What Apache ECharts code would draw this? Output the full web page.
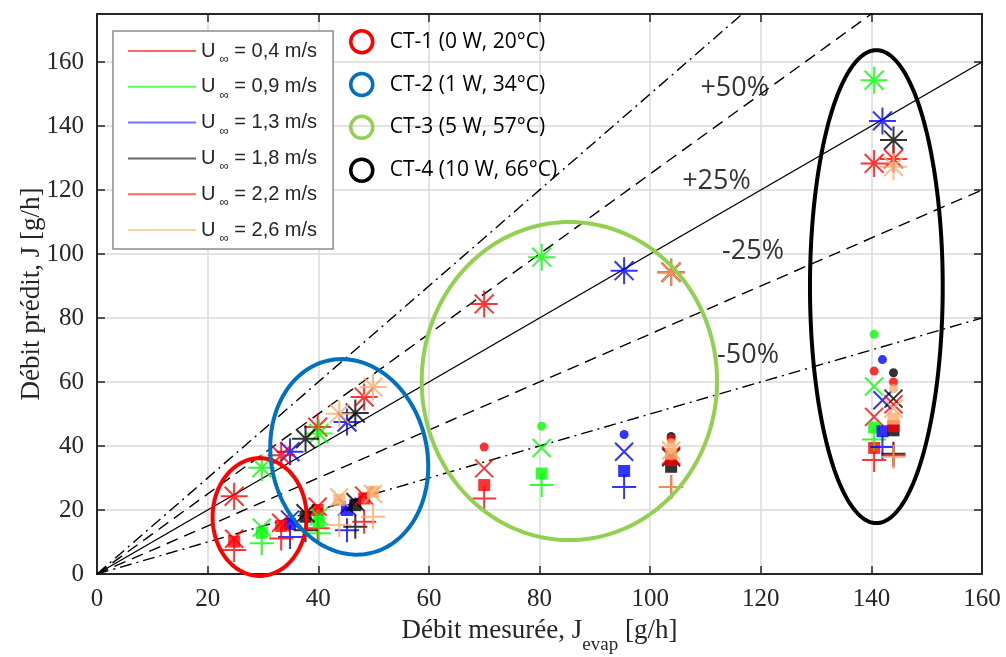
<!DOCTYPE html>
<html><head><meta charset="utf-8">
<script src="https://cdn.jsdelivr.net/npm/echarts@6/dist/echarts.min.js"></script>
<style>html,body{margin:0;padding:0;background:#fff}#c{width:1006px;height:657px}</style>
</head><body><div id="c"></div>
<script>
// ---------------- data ----------------
const uLabels = ['0,4', '0,9', '1,3', '1,8', '2,2', '2,6'];
const ctNames = ['CT-1 (0 W, 20°C)', 'CT-2 (1 W, 34°C)', 'CT-3 (5 W, 57°C)', 'CT-4 (10 W, 66°C)'];

// measured flow J_evap for each U (rows) and each CT group (columns)
const jEvap = [
  [24.8, 39.9, 70.0, 140.5],
  [29.8, 40.1, 80.4, 140.5],
  [34.9, 45.2, 95.3, 142.0],
  [37.7, 46.7, 103.8, 144.0],
  [33.3, 48.3, 103.8, 144.0],
  [43.8, 49.9, 103.8, 144.0]
];
// predicted flows (one array per model / marker)
const predStar = [
  [24.3, 45.9, 84.4, 128.3],
  [33.2, 43.9, 99.0, 154.3],
  [38.2, 47.5, 94.8, 141.6],
  [42.3, 50.3, 94.3, 135.6],
  [37.1, 55.3, 94.3, 129.7],
  [50.1, 58.4, 94.3, 127.3]
];
const predDot = [
  [null, null, 39.7, 63.4],
  [null, null, 46.2, 74.9],
  [null, null, 43.6, 67.0],
  [null, null, 43.0, 62.9],
  [null, null, 42.2, 60.0],
  [null, null, 41.0, 57.9]
];
const predCross = [
  [11.0, 21.0, 33.0, 49.1],
  [14.5, 18.0, 39.4, 58.6],
  [17.0, 21.0, 38.2, 54.3],
  [19.0, 22.5, 36.5, 54.8],
  [16.0, 24.5, 37.0, 53.0],
  [24.0, 25.0, 38.6, 51.7]
];
const predSquare = [
  [10.1, 20.0, 27.8, 39.4],
  [12.9, 16.3, 31.4, 45.8],
  [15.6, 20.0, 32.2, 44.6],
  [17.9, 21.5, 33.5, 44.9],
  [15.0, 23.6, 35.6, 46.2],
  [23.1, 25.7, 37.6, 48.6]
];
const predPlus = [
  [7.5, 14.3, 23.6, 35.6],
  [9.6, 12.7, 27.8, 42.0],
  [11.6, 13.7, 27.2, 39.7],
  [13.7, 14.8, 27.2, 37.6],
  [11.1, 16.3, 27.2, 37.0],
  [15.3, 17.9, 27.2, 36.6]
];
// error bands (slope of y = k x)
const bandSlopes = [1.5, 1.25, 1, 0.75, 0.5];
const bandLabels = ['+50%', '+25%', '-25%', '-50%'];
const bandLabelAt = [[115.3, 151.9], [112.0, 122.6], [118.6, 100.7], [117.7, 68.4]];
// CT group ellipses: [cx, cy, rx, ry, rotationDeg] in data units
const ctEllipses = [
  [29.4, 17.8, 8.5, 18.4, 0],
  [45.6, 36.6, 14.1, 30.8, -12],
  [85.4, 60.3, 26.7, 49.7, 0],
  [140.9, 89.8, 12.0, 73.9, 0]
];

// ---------------- styles ----------------
const markerColors = ['#ff0000', '#00ff00', '#0000ff', '#000000', '#ff0000', '#f9ad6a'];
const legendColors = ['#ff4040', '#30ff30', '#5050ff', '#404040', '#ff4040', '#ffc590'];
const ctColors = ['#ff0000', '#0070c0', '#92d050', '#000000'];
const bandTypes = [[12, 5, 2, 5], [12, 7], 'solid', [12, 7], [12, 5, 2, 5]];
const models = [
  { data: predSquare, symbol: 'rect', size: 12, filled: true },
  { data: predCross, symbol: 'path://M0,0L100,100M100,0L0,100', size: 18 },
  { data: predPlus, symbol: 'path://M50,0L50,100M0,50L100,50', size: 24 },
  { data: predDot, symbol: 'circle', size: 9, filled: true },
  { data: predStar, symbol: 'path://M50,0L50,100M0,50L100,50M15,15L85,85M85,15L15,85', size: 27 }
];
const axisColor = '#262626';
const serif = "'Liberation Serif', 'DejaVu Serif', serif";

const series = [];
bandSlopes.forEach((k, i) => {
  series.push({
    type: 'line', data: [[0, 0], [160, 160 * k]], symbol: 'none', silent: true, z: 2, clip: true,
    lineStyle: { color: '#000', width: 1.4, type: bandTypes[i] }, animation: false
  });
});
uLabels.forEach((u, i) => {
  models.forEach(m => {
    const pts = [];
    jEvap[i].forEach((x, j) => { if (m.data[i][j] != null) pts.push([x, m.data[i][j]]); });
    series.push({
      type: 'scatter', name: 'U_' + u, data: pts, symbol: m.symbol, symbolSize: m.size,
      silent: true, z: 3, animation: false, emphasis: { disabled: true },
      itemStyle: m.filled ? { color: markerColors[i] }
        : { color: 'rgba(0,0,0,0)', borderColor: markerColors[i], borderWidth: 2 }
    });
  });
});
ctNames.forEach((n, i) => {
  series.push({
    type: 'custom', name: n, coordinateSystem: 'cartesian2d', data: [ctEllipses[i]],
    z: 5, silent: true, animation: false, itemStyle: { color: ctColors[i] },
    renderItem: (params, api) => {
      const c = api.coord([api.value(0), api.value(1)]);
      const s = api.size([api.value(2), api.value(3)]);
      const r = api.value(4) * Math.PI / 180;
      const pts = [];
      for (let t = 0; t < 180; t++) {
        const a = t / 180 * Math.PI * 2;
        const lx = s[0] * Math.cos(a), ly = s[1] * Math.sin(a);
        pts.push([c[0] + lx * Math.cos(r) - ly * Math.sin(r), c[1] + lx * Math.sin(r) + ly * Math.cos(r)]);
      }
      return { type: 'polygon', shape: { points: pts }, style: { fill: 'none', stroke: ctColors[i], lineWidth: 4 } };
    }
  });
});
series.push({
  type: 'scatter', data: bandLabels.map((t, i) => ({ name: t, value: bandLabelAt[i] })),
  symbolSize: 1, silent: true, z: 4, animation: false, itemStyle: { color: 'rgba(0,0,0,0)' },
  label: { show: true, position: 'inside', formatter: p => p.name, fontFamily: 'Open Sans', fontSize: 27, color: '#000' }
});

const baseX = {
  type: 'value', min: 0, max: 160, interval: 20,
  axisLine: { show: true, onZero: false, lineStyle: { color: axisColor, width: 2 } },
  axisTick: { show: true, inside: true, length: 8, lineStyle: { color: axisColor, width: 1.5 } }
};
const baseY = {
  type: 'value', min: 0, max: 175, interval: 20,
  axisLine: { show: true, onZero: false, lineStyle: { color: axisColor, width: 2 } },
  axisTick: { show: true, inside: true, length: 8, lineStyle: { color: axisColor, width: 1.5 } }
};

const option = {
  animation: false,
  backgroundColor: '#fff',
  grid: { left: 97, right: 24, top: 14, bottom: 83, containLabel: false, outerBoundsMode: 'none' },
  xAxis: [
    Object.assign({}, baseX, {
      position: 'bottom',
      axisLabel: { fontFamily: serif, fontSize: 25, color: axisColor, margin: 13 },
      splitLine: { show: true, lineStyle: { color: '#dadada', width: 1.5 } },
      name: '{a|Débit mesurée, J}{b|evap}{a| [g/h]}', nameLocation: 'middle', nameGap: 43,
      nameTextStyle: {
        color: axisColor, fontFamily: serif, fontSize: 27,
        rich: {
          a: { fontFamily: serif, fontSize: 27, lineHeight: 38, verticalAlign: 'top', color: axisColor },
          b: { fontFamily: serif, fontSize: 19, lineHeight: 6, verticalAlign: 'bottom', color: axisColor }
        }
      }
    }),
    Object.assign({}, baseX, { position: 'top', axisLabel: { show: false }, splitLine: { show: false } })
  ],
  yAxis: [
    Object.assign({}, baseY, {
      position: 'left',
      axisLabel: { fontFamily: serif, fontSize: 25, color: axisColor, margin: 13, showMaxLabel: false },
      splitLine: { show: true, lineStyle: { color: '#dadada', width: 1.5 } },
      name: 'Débit prédit, J [g/h]', nameLocation: 'middle', nameGap: 52, nameMoveOverlap: false,
      nameTextStyle: { color: axisColor, fontFamily: serif, fontSize: 27 }
    }),
    Object.assign({}, baseY, { position: 'right', axisLabel: { show: false }, splitLine: { show: false } })
  ],
  legend: [
    {
      orient: 'vertical', left: 113, top: 31, padding: [10, 16, 4, 15], itemWidth: 68, itemHeight: 2, itemGap: 10.8,
      backgroundColor: '#fff', borderColor: '#8c8c8c', borderWidth: 1.5, selectedMode: false,
      data: uLabels.map((u, i) => ({ name: 'U_' + u, icon: 'rect', itemStyle: { color: legendColors[i], borderWidth: 0 } })),
      formatter: name => '{u|U}{s|∞}{t| = ' + name.slice(2) + ' m/s}',
      textStyle: {
        rich: {
          u: { fontFamily: 'Liberation Sans', fontSize: 20, lineHeight: 30, verticalAlign: 'middle', color: '#262626' },
          s: { fontFamily: 'Liberation Sans', fontSize: 13, lineHeight: 6, verticalAlign: 'bottom', color: '#262626', padding: [0, 0, 0, 4] },
          t: { fontFamily: 'Liberation Sans', fontSize: 20, lineHeight: 30, verticalAlign: 'middle', color: '#262626' }
        }
      }
    },
    {
      orient: 'vertical', left: 349, top: 29, padding: 0, itemWidth: 46, itemHeight: 22, itemGap: 17.3, selectedMode: false,
      data: ctNames.map((n, i) => ({ name: n, icon: 'circle', itemStyle: { color: 'rgba(0,0,0,0)', borderColor: ctColors[i], borderWidth: 3.5 } })),
      textStyle: { fontFamily: 'Open Sans', fontSize: 21, color: '#000', lineHeight: 24 }
    }
  ],
  series: series
};
const chart = echarts.init(document.getElementById('c'));
chart.setOption(option);
</script></body></html>
